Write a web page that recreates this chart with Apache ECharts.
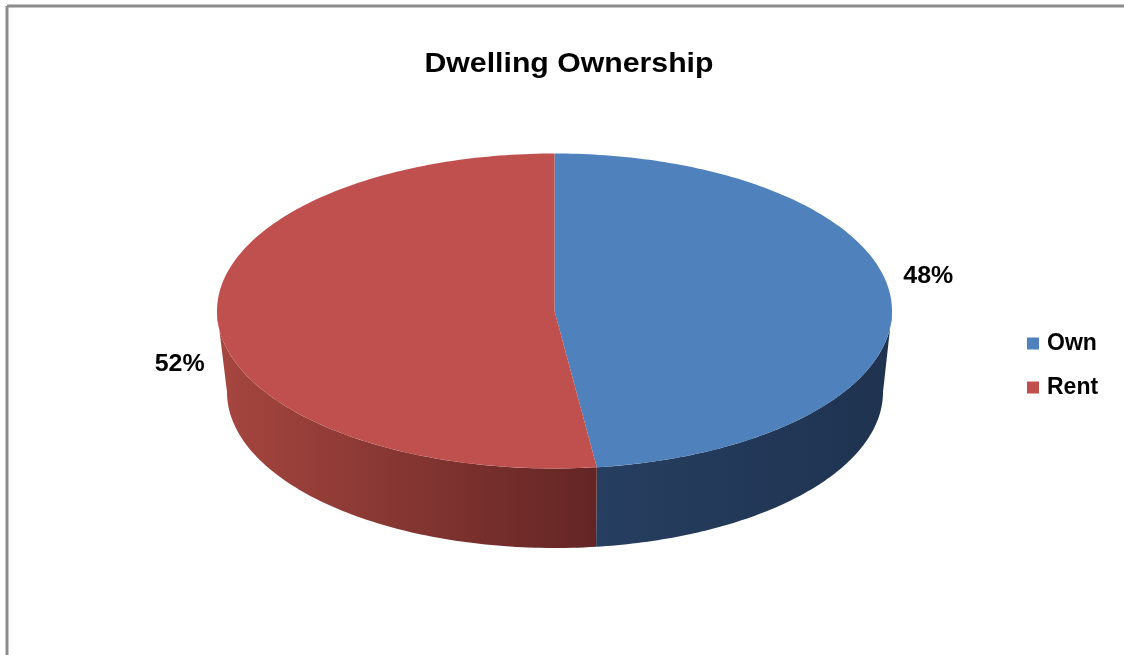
<!DOCTYPE html>
<html>
<head>
<meta charset="utf-8">
<title>Dwelling Ownership</title>
<script src="https://cdn.jsdelivr.net/npm/echarts@6/dist/echarts.min.js"></script>
<style>
  html, body { margin: 0; padding: 0; background: #fff; }
  #chart { width: 1124px; height: 655px; }
</style>
</head>
<body>
<div id="chart"></div>
<script>
// Dwelling ownership shares (percent)
const categories = ['Own', 'Rent'];
const values = [48, 52];
const chartTitle = 'Dwelling Ownership';

// Slice styling
const topColors = ['#4F81BD', '#C0504D'];
const sideColors = [
  ['#263e60', '#1f3350'],   // Own wall: left -> right
  ['#a6463f', '#632524']    // Rent wall: left -> right
];

// Disc geometry (top face and slightly smaller bottom rim for perspective)
const disc = {
  top:    { cx: 554.5, cy: 311, rx: 337.5, ry: 157.5 },
  bottom: { cx: 555,   cy: 392, rx: 328,   ry: 156 }
};
// Label nudges from the rim point at each slice's mid angle
const labelNudge = { Own: [37, -25], Rent: [-38, 43] };

const FONT = 'Liberation Sans, Arial, sans-serif';
const total = values.reduce((a, b) => a + b, 0);

// angle measured clockwise from 12 o'clock, in radians
function rimPoint(e, t) {
  return [e.cx + e.rx * Math.sin(t), e.cy - e.ry * Math.cos(t)];
}
function arc(e, a, b, n) {
  const pts = [];
  for (let k = 0; k <= n; k++) pts.push(rimPoint(e, a + (b - a) * k / n));
  return pts;
}

function renderSlice(params, api) {
  const i = params.seriesIndex;
  const v = api.value(0);
  let before = 0;
  for (let k = 0; k < i; k++) before += values[k];
  const a = before / total * Math.PI * 2;
  const b = (before + v) / total * Math.PI * 2;
  const children = [];

  // Front wall: visible between 90deg and 270deg
  const va = Math.max(a, Math.PI / 2);
  const vb = Math.min(b, Math.PI * 1.5);
  if (vb > va) {
    const upper = arc(disc.top, va, vb, 90);
    const lower = arc(disc.bottom, va, vb, 90).reverse();
    children.push({
      type: 'polygon',
      shape: { points: upper.concat(lower) },
      style: {
        fill: new echarts.graphic.LinearGradient(0, 0, 1, 0, [
          { offset: 0, color: sideColors[i][0] },
          { offset: 1, color: sideColors[i][1] }
        ])
      }
    });
  }

  // Top face
  const face = [[disc.top.cx, disc.top.cy]].concat(arc(disc.top, a, b, 180));
  children.push({
    type: 'polygon',
    shape: { points: face },
    style: { fill: topColors[i] }
  });

  // Percentage label
  const mid = (a + b) / 2;
  const p = rimPoint(disc.top, mid);
  const nudge = labelNudge[categories[i]];
  children.push({
    type: 'text',
    x: p[0] + nudge[0],
    y: p[1] + nudge[1],
    scaleX: 1.04,
    style: {
      text: Math.round(v / total * 100) + '%',
      fontFamily: FONT,
      fontWeight: 'bold',
      fontSize: 24,
      fill: '#000',
      align: 'center',
      verticalAlign: 'middle'
    }
  });

  return { type: 'group', children: children };
}

const chart = echarts.init(document.getElementById('chart'), null, { renderer: 'canvas' });

chart.setOption({
  animation: false,
  backgroundColor: '#ffffff',
  legend: {
    orient: 'vertical',
    left: 1027,
    top: 332,
    padding: 0,
    itemWidth: 12,
    itemHeight: 12,
    itemGap: 21,
    icon: 'rect',
    selectedMode: false,
    data: categories,
    textStyle: {
      fontFamily: FONT,
      fontWeight: 'bold',
      fontSize: 23,
      lineHeight: 22,
      color: '#000',
      padding: [0, 0, 0, 3]
    }
  },
  graphic: [
    { type: 'line', shape: { x1: 7, y1: 6, x2: 1124, y2: 6 }, style: { stroke: '#8c8c8c', lineWidth: 3 } },
    { type: 'line', shape: { x1: 7, y1: 6, x2: 7, y2: 655 }, style: { stroke: '#8c8c8c', lineWidth: 3 } },
    {
      type: 'text',
      x: 569,
      y: 64,
      scaleX: 1.08,
      style: {
        text: chartTitle,
        fontFamily: FONT,
        fontWeight: 'bold',
        fontSize: 28,
        fill: '#000',
        align: 'center',
        verticalAlign: 'middle'
      }
    }
  ],
  series: categories.map((name, i) => ({
    type: 'custom',
    name: name,
    coordinateSystem: 'none',
    itemStyle: { color: topColors[i] },
    renderItem: renderSlice,
    data: [[values[i]]]
  }))
});
</script>
</body>
</html>
